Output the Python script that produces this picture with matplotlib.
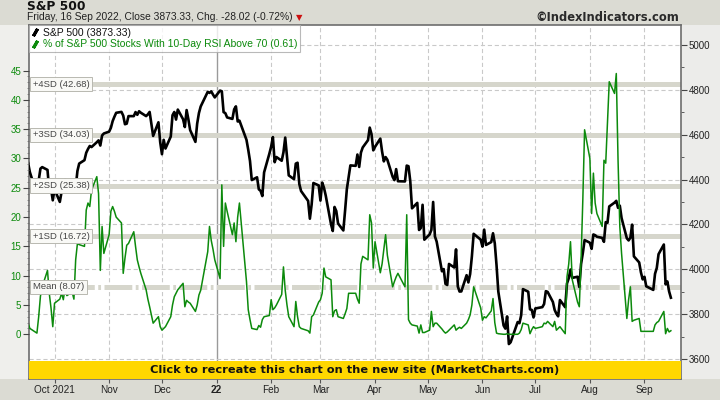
import matplotlib
matplotlib.use('Agg')
import matplotlib.pyplot as plt
from matplotlib.lines import Line2D
from matplotlib.patches import Rectangle
from matplotlib.transforms import blended_transform_factory
import pandas as pd

# US market holidays inside the window
holidays = ['2021-11-25', '2021-12-24', '2022-01-17', '2022-02-21', '2022-04-15',
            '2022-05-30', '2022-06-20', '2022-07-04', '2022-09-05']

# S&P 500 daily closes, 16 Sep 2021 .. 16 Sep 2022
spx_close = [
    # Sep 2021
    4473.75, 4432.99, 4357.73, 4354.19, 4395.64, 4448.98, 4455.48, 4443.11, 4352.63, 4359.46, 4307.54,
    # Oct
    4357.04, 4300.46, 4345.72, 4363.55, 4399.76, 4391.34, 4361.19, 4350.65, 4363.80, 4438.26, 4471.37,
    4486.46, 4519.63, 4536.19, 4549.78, 4544.90, 4566.48, 4574.79, 4551.68, 4596.42, 4605.38,
    # Nov
    4613.67, 4630.65, 4660.57, 4680.06, 4697.53, 4701.70, 4685.25, 4646.71, 4649.27, 4682.85, 4682.80,
    4700.90, 4688.67, 4704.54, 4697.96, 4682.94, 4690.70, 4701.46, 4594.62, 4655.27, 4567.00,
    # Dec
    4513.04, 4577.10, 4538.43, 4591.67, 4686.75, 4701.21, 4667.45, 4712.02, 4668.97, 4634.09, 4709.85,
    4668.67, 4620.64, 4568.02, 4649.23, 4696.56, 4725.79, 4791.19, 4786.35, 4793.06, 4778.73, 4766.18,
    # Jan 2022
    4796.56, 4793.54, 4700.58, 4696.05, 4677.03, 4670.29, 4713.07, 4726.35, 4659.03, 4662.85,
    4577.11, 4532.76, 4482.73, 4397.94, 4410.13, 4356.45, 4349.93, 4326.51, 4431.85, 4515.55,
    # Feb
    4546.54, 4589.38, 4477.44, 4500.53, 4483.87, 4521.54, 4587.18, 4504.08, 4418.64, 4401.67,
    4471.07, 4475.01, 4380.26, 4348.87, 4304.76, 4225.50, 4288.70, 4384.65, 4373.94,
    # Mar
    4306.26, 4386.54, 4363.49, 4328.87, 4201.09, 4170.70, 4277.88, 4259.52, 4204.31, 4173.11, 4262.45,
    4357.86, 4411.67, 4463.12, 4461.18, 4511.61, 4456.24, 4520.16, 4543.06, 4575.52, 4631.60, 4602.45,
    4530.41,
    # Apr
    4545.86, 4582.64, 4525.12, 4481.15, 4500.21, 4488.28, 4412.53, 4397.45, 4446.59, 4392.59,
    4391.69, 4462.21, 4459.45, 4393.66, 4271.78, 4296.12, 4175.20, 4183.96, 4287.50, 4131.93,
    # May
    4155.38, 4175.48, 4300.17, 4146.87, 4123.34, 3991.24, 4001.05, 3935.18, 3930.08, 4023.89, 4008.01,
    4088.85, 3923.68, 3900.79, 3901.36, 3973.75, 3941.48, 3978.73, 4057.84, 4158.24, 4132.15,
    # Jun
    4101.23, 4176.82, 4108.54, 4121.43, 4160.68, 4115.77, 4017.82, 3900.86, 3749.63, 3735.48, 3789.99,
    3666.77, 3674.84, 3764.79, 3759.89, 3795.73, 3911.74, 3900.11, 3821.55, 3818.83, 3785.38,
    # Jul
    3825.33, 3831.39, 3845.08, 3902.62, 3899.38, 3854.43, 3818.80, 3801.78, 3790.38, 3863.16,
    3830.85, 3936.69, 3959.90, 3998.95, 3961.63, 3966.84, 3921.05, 4023.61, 4072.43, 4130.29,
    # Aug
    4118.63, 4091.19, 4155.17, 4151.94, 4145.19, 4140.06, 4122.47, 4210.24, 4207.27, 4280.15, 4297.14,
    4305.20, 4274.04, 4283.74, 4228.48, 4137.99, 4128.73, 4140.77, 4199.12, 4057.66, 4030.61, 3986.16,
    3955.00,
    # Sep
    3966.85, 3924.26, 3908.19, 3979.87, 4006.18, 4067.36, 4110.41, 3932.69, 3946.01, 3901.35, 3873.33,
]

# % of S&P 500 stocks with 10-day RSI above 70
rsi_pct = [
    # Sep 2021
    1.9, 1.0, 0.4, 0.2, 3.0, 6.5, 8.1, 10.9, 7.0, 4.5, 1.3,
    # Oct
    5.3, 6.0, 7.0, 5.9, 8.0, 6.6, 7.2, 6.0, 12.7, 15.5, 15.3,
    15.0, 21.2, 22.4, 21.8, 24.6, 26.9, 24.0, 10.9, 18.4, 13.8,
    # Nov
    17.0, 21.0, 21.8, 21.0, 20.0, 19.0, 10.4, 13.0, 15.2, 15.5, 17.5,
    15.0, 12.7, 11.5, 10.4, 7.6, 6.0, 4.7, 1.9, 3.0, 1.3,
    # Dec
    0.7, 1.0, 1.3, 3.0, 5.0, 6.4, 7.0, 7.6, 8.7, 4.7, 5.8,
    5.5, 5.3, 3.9, 5.0, 6.7, 7.5, 14.1, 18.4, 16.0, 14.5, 12.7,
    # Jan 2022
    9.5, 25.5, 15.0, 22.4, 21.0, 17.0, 19.0, 15.8, 20.0, 22.4,
    9.0, 4.2, 2.5, 1.0, 0.8, 1.5, 1.2, 2.5, 3.0, 3.2,
    # Feb
    5.9, 4.2, 4.5, 5.0, 6.8, 11.5, 7.5, 5.0, 3.0, 1.3,
    5.6, 3.0, 1.3, 1.0, 0.6, 0.2, 3.0, 3.3, 5.5,
    # Mar
    5.9, 7.0, 11.3, 9.8, 9.3, 3.0, 4.0, 4.2, 3.0, 2.7, 3.5,
    4.4, 7.0, 7.0, 7.0, 6.0, 5.3, 12.0, 13.3, 12.7, 20.4, 19.0,
    11.3,
    # Apr
    15.8, 10.5, 12.0, 14.5, 17.0, 13.5, 8.1, 9.0, 9.8, 10.4,
    8.1, 20.4, 2.5, 1.9, 1.6, 1.4, 0.2, 1.6, 0.3, 0.3,
    # May
    0.7, 3.9, 1.3, 1.9, 1.9, 0.9, 0.5, 0.2, 0.4, 0.7, 1.6,
    0.7, 1.0, 1.2, 1.0, 1.9, 2.5, 3.3, 5.0, 8.1, 4.5,
    # Jun
    2.4, 3.0, 2.8, 4.0, 6.1, 2.0, 0.2, 0.1, 0.0, 0.0, 0.1,
    0.0, 0.0, 0.0, 0.2, 0.8, 1.9, 1.6, 0.1, 0.8, 1.3,
    # Jul
    1.0, 1.3, 1.9, 1.8, 2.2, 1.3, 2.2, 0.7, 1.0, 1.3,
    0.1, 9.8, 12.0, 15.8, 9.3, 5.5, 4.7, 12.7, 23.0, 34.9,
    # Aug
    30.0, 20.6, 27.5, 22.4, 20.6, 18.4, 29.7, 29.2, 36.0, 43.1, 41.1,
    44.5, 29.7, 18.4, 13.8, 2.7, 5.9, 8.1, 2.2, 2.4, 2.7, 0.5,
    0.5,
    # Sep
    0.5, 0.5, 0.5, 1.6, 2.0, 2.2, 3.9, 0.1, 1.0, 0.4, 0.61,
]

sd_names = ['Mean', '+1SD', '+2SD', '+3SD', '+4SD']
sd_levels = [8.07, 16.72, 25.38, 34.03, 42.68]

month_starts = ['2021-10-01', '2021-11-01', '2021-12-01', '2022-01-01', '2022-02-01', '2022-03-01',
                '2022-04-01', '2022-05-01', '2022-06-01', '2022-07-01', '2022-08-01', '2022-09-01']
month_labels = ['Oct 2021', 'Nov', 'Dec', '22', 'Feb', 'Mar', 'Apr', 'May', 'Jun', 'Jul', 'Aug', 'Sep']

spx_ticks = [3600, 3800, 4000, 4200, 4400, 4600, 4800, 5000]
rsi_ticks = [0, 5, 10, 15, 20, 25, 30, 35, 40, 45]

days = pd.bdate_range('2021-09-16', '2022-09-16')
days = days[~days.isin(pd.to_datetime(holidays))]
month_dates = pd.to_datetime(month_starts)

GREEN = '#0c8a0c'
BAND = '#d6d6cc'
plt.rcParams['font.family'] = ['Liberation Sans', 'DejaVu Sans']
plt.rcParams['lines.scale_dashes'] = False

W, H = 720, 400
fig = plt.figure(figsize=(7.2, 4.0), dpi=100, facecolor='#dbdbd3')

# plot box in pixels: x 29..681, y 25..379
L, R, T, B = 29, 681, 25, 379
box = [L / W, 1 - B / H, (R - L) / W, (B - T) / H]

# lighter side strips
fig.add_artist(Rectangle((0, 1 - B / H), L / W, (B - T) / H, transform=fig.transFigure,
                         fc='#efefec', ec='none', zorder=-5))
fig.add_artist(Rectangle((R / W, 1 - B / H), 1 - R / W, (B - T) / H, transform=fig.transFigure,
                         fc='#ececea', ec='none', zorder=-5))

sp = fig.add_axes(box)
gr = sp.twinx()
sp.yaxis.tick_right()
gr.yaxis.tick_left()
sp.set_facecolor('white')

sp.set_xlim(pd.Timestamp('2021-09-16 12:00'), pd.Timestamp('2022-09-21 18:00'))
sp.set_ylim(3511, 5089)
gr.set_ylim(-7.63, 52.78)

# grid
for d, lab in zip(month_dates, month_labels):
    if lab == '22':
        sp.axvline(d, color='#9a9a9a', lw=1.0, zorder=1)
    else:
        sp.axvline(d, color='#c9c9c9', lw=0.8, dashes=(3, 2), zorder=1)
for v in spx_ticks:
    sp.axhline(v, color='#c9c9c9', lw=0.8, dashes=(3, 2), zorder=1)

# standard deviation bands (on the RSI scale, drawn beneath the price line)
band_tr = blended_transform_factory(sp.transAxes, gr.transData)
for name, lvl in zip(sd_names, sd_levels):
    if name == 'Mean':
        sp.plot([0, 1], [lvl, lvl], transform=band_tr, color=BAND, lw=3.6,
                dashes=(20, 2.5, 2, 2.5), solid_capstyle='butt', zorder=2)
    else:
        sp.plot([0, 1], [lvl, lvl], transform=band_tr, color=BAND, lw=3.6,
                solid_capstyle='butt', zorder=2)

sp.plot(days, spx_close, color='black', lw=1.9, solid_joinstyle='round', zorder=4)
gr.plot(days, rsi_pct, color=GREEN, lw=1.1, solid_joinstyle='round', zorder=4)

label_tr = blended_transform_factory(gr.transAxes, gr.transData)
for name, lvl in zip(sd_names, sd_levels):
    gr.text(0.0058, lvl, f'{name} ({lvl:.2f})', transform=label_tr, ha='left', va='center',
            fontsize=6.8, color='#454545', zorder=8,
            bbox=dict(boxstyle='square,pad=0.28', fc='#f9f9f6', ec='#b8b8b0', lw=0.7))

# yellow banner
gr.add_patch(Rectangle((0, 0), 1, 18 / (B - T), transform=gr.transAxes, fc='#ffd700',
                       ec='none', zorder=9))
gr.text(0.5, 9 / (B - T), 'Click to recreate this chart on the new site (MarketCharts.com)',
        transform=gr.transAxes, ha='center', va='center', fontsize=8.2, fontweight='bold',
        family='DejaVu Sans', color='#111111', zorder=10)

# axes / ticks
sp.set_xticks(month_dates)
sp.set_xticklabels(month_labels)
for t in sp.get_xticklabels():
    if t.get_text() == '22':
        t.set_fontweight('bold')
sp.tick_params(axis='x', length=3, width=0.8, color='#555555', labelsize=7.2,
               labelcolor='#222222', pad=1.5)
sp.set_yticks(spx_ticks)
sp.set_yticks(range(3700, 5000, 200), minor=True)
sp.tick_params(axis='y', which='major', length=4, width=0.8, color='#444444', labelsize=7,
               labelcolor='#222222', pad=1.5)
sp.tick_params(axis='y', which='minor', length=2, width=0.6, color='#444444')
gr.set_yticks(rsi_ticks)
gr.set_yticks(range(0, 46), minor=True)
gr.tick_params(axis='y', which='major', length=4, width=0.8, color='#444444', labelsize=7,
               labelcolor=GREEN, pad=1.5)
gr.tick_params(axis='y', which='minor', length=1.5, width=0.5, color='#666666')

for s in sp.spines.values():
    s.set_color('#6d6d6d')
    s.set_linewidth(1.2)
for s in gr.spines.values():
    s.set_visible(False)

# legend
handles = [Line2D([], [], color='black', marker=(2, 2, -30), ls='none', ms=6, mew=2.2),
           Line2D([], [], color=GREEN, marker=(2, 2, -30), ls='none', ms=6, mew=2.2)]
leg = gr.legend(handles, ['S&P 500 (3873.33)', '% of S&P 500 Stocks With 10-Day RSI Above 70 (0.61)'],
                loc='upper left', bbox_to_anchor=(0, 1), borderaxespad=0, frameon=True,
                fancybox=False, edgecolor='#a8a8a8', fontsize=7.5, handlelength=0.5,
                handletextpad=0.5, borderpad=0.3, labelspacing=0.1,
                labelcolor=['#111111', GREEN])
leg.get_frame().set_linewidth(0.8)
leg.set_zorder(11)

# header
fig.text(27 / W, 1 - 0.5 / H, 'S&P 500', fontsize=8.8, fontweight='bold', family='DejaVu Sans',
         va='top', ha='left', color='#111111')
sub = fig.text(27 / W, 1 - 20.5 / H, 'Friday, 16 Sep 2022, Close 3873.33, Chg. -28.02 (-0.72%)',
               fontsize=7.4, va='baseline', ha='left', color='#222222')
fig.text(679 / W, 1 - 17.5 / H, '\u00a9IndexIndicators.com', fontsize=8.3, fontweight='bold',
         family='DejaVu Sans', va='center', ha='right', color='#2a2a2a')

fig.canvas.draw()
bb = sub.get_window_extent()
fig.text((bb.x1 + 3) / W, 1 - 18 / H, '\u25bc', fontsize=6, color='#cc1111',
         family='DejaVu Sans', va='center', ha='left')

fig.savefig('out.png', dpi=100, facecolor=fig.get_facecolor())
